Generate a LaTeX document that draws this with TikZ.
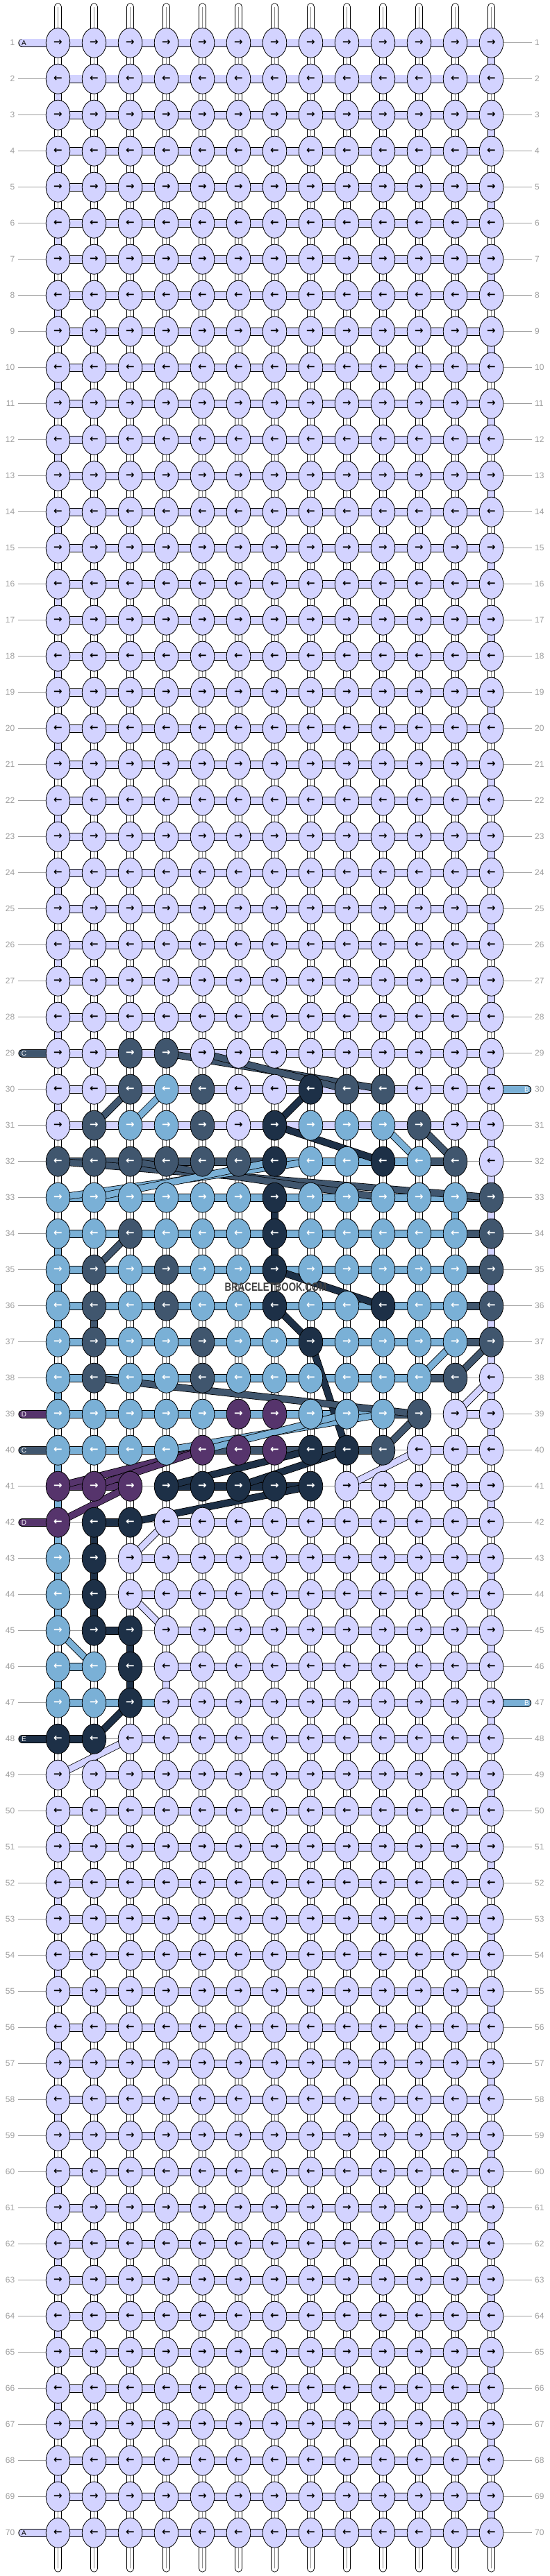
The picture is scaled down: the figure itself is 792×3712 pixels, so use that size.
\documentclass[tikz,border=0pt]{standalone}
\usepackage{fontspec}
\setmainfont{Liberation Sans}
\newfontfamily\arrowfont{DejaVu Sans}
\usetikzlibrary{shapes.geometric,backgrounds}

\definecolor{colA}{RGB}{211,211,255}
\definecolor{colB}{RGB}{122,176,214}
\definecolor{colC}{RGB}{64,86,110}
\definecolor{colD}{RGB}{86,52,108}
\definecolor{colE}{RGB}{29,48,71}
\definecolor{labgray}{RGB}{158,158,158}

\newcommand\knotrow[2]{\expandafter\def\csname kr#1\endcsname{#2}}
\newcommand\weftrow[2]{\expandafter\def\csname hr#1\endcsname{#2}}
\newcommand\solidv[3]{\expandafter\def\csname v#1-#2\endcsname{#3}}
\newcommand\entryL[2]{\expandafter\def\csname el#1\endcsname{#2}}
\newcommand\entryR[2]{\expandafter\def\csname er#1\endcsname{#2}}
\newcommand\vedge{\ifodd\r\ifnum\c=13 \def\vc{A}\fi\else\ifnum\c=1 \def\vc{A}\fi\fi}

% <<< màu nút
\knotrow{29}{A,A,C,C,A,A,A,A,A,A,A,A,A}
\knotrow{30}{A,A,C,B,C,A,A,E,C,C,A,A,A}
\knotrow{31}{A,C,B,B,C,A,E,B,B,B,C,A,A}
\knotrow{32}{C,C,C,C,C,C,E,B,B,E,B,C,A}
\knotrow{33}{B,B,B,B,B,B,E,B,B,B,B,B,C}
\knotrow{34}{B,B,C,B,B,B,E,B,B,B,B,B,C}
\knotrow{35}{B,C,B,C,B,B,E,B,B,B,B,B,C}
\knotrow{36}{B,C,B,C,B,B,E,B,B,E,B,B,C}
\knotrow{37}{B,C,B,B,C,B,B,E,B,B,B,B,C}
\knotrow{38}{B,C,B,B,C,B,B,B,B,B,B,C,A}
\knotrow{39}{B,B,B,B,B,D,D,B,B,B,C,A,A}
\knotrow{40}{B,B,B,B,D,D,D,E,E,C,A,A,A}
\knotrow{41}{D,D,D,E,E,E,E,E,A,A,A,A,A}
\knotrow{42}{D,E,E,A,A,A,A,A,A,A,A,A,A}
\knotrow{43}{B,E,A,A,A,A,A,A,A,A,A,A,A}
\knotrow{44}{B,E,A,A,A,A,A,A,A,A,A,A,A}
\knotrow{45}{B,E,E,A,A,A,A,A,A,A,A,A,A}
\knotrow{46}{B,B,E,A,A,A,A,A,A,A,A,A,A}
\knotrow{47}{B,B,E,A,A,A,A,A,A,A,A,A,A}
\knotrow{48}{E,E,A,A,A,A,A,A,A,A,A,A,A}

% <<< sợi ngang
\weftrow{32}{C,C,C,C,C,C,B,B,B,B,C,N}
\weftrow{33}{B,B,B,B,B,B,B,B,B,B,B,C}
\weftrow{34}{B,B,B,B,B,B,B,B,B,B,B,C}
\weftrow{35}{B,B,B,B,B,B,B,B,B,B,B,C}
\weftrow{36}{B,B,B,B,B,B,B,B,B,B,B,C}
\weftrow{37}{B,B,B,B,B,B,B,B,B,B,B,C}
\weftrow{38}{B,B,B,B,B,B,B,B,B,B,C,N}
\weftrow{39}{B,B,B,B,B,B,B,B,B,C,N,A}
\weftrow{40}{B,B,B,C,C,C,C,C,C,N,A,A}
\weftrow{41}{D,D,N,E,E,E,E,N,A,A,A,A}
\weftrow{42}{N,E,N,A,A,A,A,A,A,A,A,A}
\weftrow{43}{N,N,A,A,A,A,A,A,A,A,A,A}
\weftrow{44}{N,N,A,A,A,A,A,A,A,A,A,A}
\weftrow{45}{N,E,N,A,A,A,A,A,A,A,A,A}
\weftrow{46}{B,N,N,A,A,A,A,A,A,A,A,A}
\weftrow{47}{B,B,B,A,A,A,A,A,A,A,A,A}
\weftrow{48}{E,N,A,A,A,A,A,A,A,A,A,A}
\weftrow{49}{N,A,A,A,A,A,A,A,A,A,A,A}

% <<< sợi dọc đặc
\solidv{29}{13}{A}
\solidv{30}{1}{A}
\solidv{31}{13}{A}
\solidv{32}{13}{A}
\solidv{33}{13}{A}\solidv{33}{7}{E}\solidv{33}{12}{B}
\solidv{34}{13}{A}\solidv{34}{1}{B}\solidv{34}{7}{E}
\solidv{35}{13}{A}\solidv{35}{1}{B}
\solidv{36}{13}{A}\solidv{36}{1}{B}\solidv{36}{2}{C}
\solidv{37}{13}{A}
\solidv{38}{13}{A}\solidv{38}{1}{B}
\solidv{39}{13}{A}
\solidv{40}{1}{B}
\solidv{41}{1}{B}\solidv{41}{13}{A}
\solidv{42}{1}{B}\solidv{42}{2}{E}
\solidv{43}{1}{B}\solidv{43}{2}{E}\solidv{43}{13}{A}
\solidv{44}{1}{B}\solidv{44}{2}{E}
\solidv{45}{3}{E}\solidv{45}{13}{A}
\solidv{46}{1}{B}\solidv{46}{3}{E}\solidv{46}{4}{A}
\solidv{47}{13}{A}

% <<< sợi vào
\entryL{1}{A}\entryL{29}{C}\entryL{39}{D}\entryL{40}{C}
\entryL{42}{D}\entryL{48}{E}\entryL{70}{A}
\entryR{30}{B}\entryR{47}{B}

\tikzset{
  knot/.style={ellipse, draw, line width=.8pt, minimum width=34.5pt,
    minimum height=43pt, inner sep=0pt,
    font=\arrowfont\bfseries\fontsize{15}{15}\selectfont},
  rim/.style={line width=12.2pt, draw=black},
  thread/.style={line width=10.4pt, draw=col#1},
  vrim/.style={line width=11pt, draw=black},
  vthread/.style={line width=9.4pt, draw=col#1},
  warp/.style={line width=9.4pt, draw=white},
  warpmid/.style={line width=.5pt, draw=black!45},
  noweft/.style={line width=.8pt, draw=labgray},
  rowlab/.style={font=\fontsize{12}{14}\selectfont, text=labgray, inner sep=0pt},
  tag/.style={font=\fontsize{10}{10}\selectfont, inner sep=0pt},
}

\begin{document}
\begin{tikzpicture}[x=1pt,y=-1pt]
\useasboundingbox (0,0) rectangle (792,3712);
% <<< nút
\foreach \r in {1,...,70}{
  \ifcsname kr\r\endcsname \edef\kl{\csname kr\r\endcsname}\else
    \def\kl{A,A,A,A,A,A,A,A,A,A,A,A,A}\fi
  \foreach \k [count=\c] in \kl {
    \def\tc{white}\if A\k\def\tc{black}\fi
    \node[knot, fill=col\k, text=\tc] (k-\r-\c)
      at ({83.5+52*(\c-1)},{61.7+52*(\r-1)}) {\ifodd\r →\else ←\fi};
  }
  \node[rowlab, anchor=east] (ln-\r) at (21.5,{61.7+52*(\r-1)}) {\r};
  \node[rowlab, anchor=west] (rn-\r) at (770,{61.7+52*(\r-1)}) {\r};
  \ifcsname el\r\endcsname
    \edef\ec{\csname el\r\endcsname}
    \def\tc{white}\if A\ec\def\tc{black}\fi
    \node[tag, text=\tc] (tl-\r) at (34.5,{61.7+52*(\r-1)}) {\ec};
  \fi
  \ifcsname er\r\endcsname
    \edef\ec{\csname er\r\endcsname}
    \node[tag, text=white] (tr-\r) at (758.5,{61.7+52*(\r-1)}) {\ec};
  \fi
}
\node[font=\bfseries\fontsize{17}{17}\selectfont, text=black!75, xscale=.78]
  (mark) at (397,1855) {BRACELETBOOK.COM};

\begin{pgfonlayer}{background}
% <<< đầu và cuối sợi dọc
\foreach \c in {1,...,13}{
  \coordinate (t-\c) at ({83.5+52*(\c-1)},10);
  \coordinate (b-\c) at ({83.5+52*(\c-1)},3701);
  \foreach \e/\n in {t/1,b/70}{
    \draw[vrim, line cap=round] (\e-\c) -- (k-\n-\c.center);
    \draw[warp, line cap=round] (\e-\c) -- (k-\n-\c.center);
    \draw[warpmid] (\e-\c) -- (k-\n-\c.center);
  }
}
% <<< nối dọc
\foreach \r in {1,...,69}{
  \pgfmathtruncatemacro\rn{\r+1}
  \foreach \c in {1,...,13}{
    \def\vc{}
    \ifnum\r<29 \vedge\else\ifnum\r>48 \vedge\else
      \ifcsname v\r-\c\endcsname \edef\vc{\csname v\r-\c\endcsname}\fi\fi\fi
    \draw[vrim] (k-\r-\c.center) -- (k-\rn-\c.center);
    \ifx\vc\empty
      \draw[warp] (k-\r-\c.center) -- (k-\rn-\c.center);
      \draw[warpmid] (k-\r-\c.center) -- (k-\rn-\c.center);
    \else
      \draw[vthread=\vc] (k-\r-\c.center) -- (k-\rn-\c.center);
    \fi
  }
}
% <<< nối ngang
\foreach \r in {1,...,70}{
  \ifcsname hr\r\endcsname \edef\hl{\csname hr\r\endcsname}\else
    \def\hl{A,A,A,A,A,A,A,A,A,A,A,A}\fi
  \foreach \h [count=\c] in \hl {
    \pgfmathtruncatemacro\cn{\c+1}
    \if N\h
      \draw[noweft] (k-\r-\c.center) -- (k-\r-\cn.center);
    \else
      \draw[rim] (k-\r-\c.center) -- (k-\r-\cn.center);
      \draw[thread=\h] (k-\r-\c.center) -- (k-\r-\cn.center);
    \fi
  }
  % <<< sợi vào trái / phải
  \ifcsname el\r\endcsname
    \edef\ec{\csname el\r\endcsname}
    \coordinate (el-\r) at (32.5,{61.7+52*(\r-1)});
    \draw[rim, line cap=round] (el-\r) -- (k-\r-1.center);
    \draw[thread=\ec, line cap=round] (el-\r) -- (k-\r-1.center);
  \else
    \coordinate (ll-\r) at (26,{61.7+52*(\r-1)});
    \draw[noweft] (ll-\r) -- (k-\r-1.center);
  \fi
  \ifcsname er\r\endcsname
    \edef\ec{\csname er\r\endcsname}
    \coordinate (er-\r) at (759,{61.7+52*(\r-1)});
    \draw[rim, line cap=round] (er-\r) -- (k-\r-13.center);
    \draw[thread=\ec, line cap=round] (er-\r) -- (k-\r-13.center);
  \else
    \coordinate (lr-\r) at (766,{61.7+52*(\r-1)});
    \draw[noweft] (lr-\r) -- (k-\r-13.center);
  \fi
}
% <<< sợi chéo
\foreach \t/\ra/\ca/\rb/\cb in {C/29/4/30/10, C/29/5/30/9, C/30/3/31/2,
    B/30/4/31/3, E/30/8/31/7, E/31/7/32/10, B/31/10/32/11, C/31/11/32/12,
    C/32/1/33/13, C/32/3/33/10, B/33/1/32/8, B/33/2/32/7, C/34/3/35/2,
    E/35/7/36/10, E/36/7/37/8, E/37/8/40/9, B/37/12/38/11, C/37/13/38/12,
    A/38/13/39/12, C/38/2/39/11, B/40/4/39/10, B/40/5/39/9, C/39/11/40/10,
    A/40/11/41/9, D/40/5/41/1, D/40/5/41/2, E/40/8/41/4, E/40/9/41/6,
    D/41/3/42/1, E/41/8/42/3, A/42/4/43/3, A/44/3/45/4, B/45/1/46/2,
    E/47/3/48/2, A/48/3/49/1}{
  \draw[rim, line width=10.4pt] (k-\ra-\ca.center) -- (k-\rb-\cb.center);
  \draw[thread=\t, line width=8.8pt] (k-\ra-\ca.center) -- (k-\rb-\cb.center);
}
\end{pgfonlayer}
\end{tikzpicture}
\end{document}
